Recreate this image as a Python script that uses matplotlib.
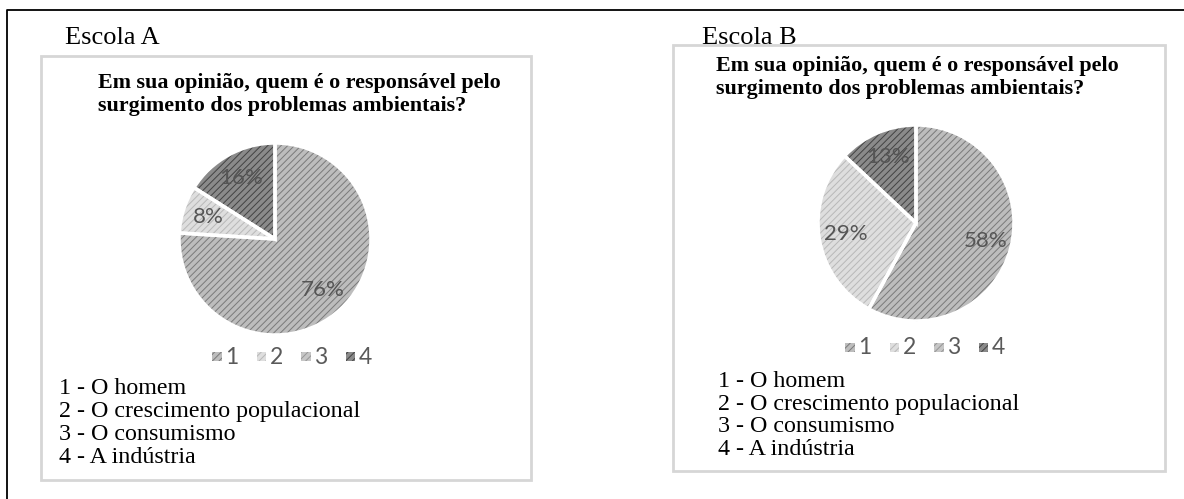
import matplotlib
matplotlib.use("Agg")
import matplotlib.pyplot as plt
from matplotlib.patches import Rectangle, Wedge

W, H = 1184, 499

# data (category 3 has no share in either school)
categories = ["1", "2", "3", "4"]
escola_a = [76, 8, 0, 16]
escola_b = [58, 29, 0, 13]
school_names = ["Escola A", "Escola B"]
title_lines = ["Em sua opinião, quem é o responsável pelo",
               "surgimento dos problemas ambientais?"]
key_lines = ["1 - O homem", "2 - O crescimento populacional",
             "3 - O consumismo", "4 - A indústria"]

face_colors = ["#bdbdbd", "#dedede", "#c6c6c6", "#8a8a8a"]
hatch_colors = ["#7a7a7a", "#b8b8b8", "#969696", "#424242"]

plt.rcParams["hatch.linewidth"] = 0.7

fig = plt.figure(figsize=(W / 100, H / 100), dpi=100)
bg = fig.add_axes([0, 0, 1, 1])
bg.set_xlim(0, W)
bg.set_ylim(H, 0)
bg.axis("off")

# outer frame: only left and top lines are visible
bg.plot([7, 7, W + 5], [H + 5, 10, 10], color="black", lw=1.3)

panels = [
    dict(box=(41, 56, 490, 424), name=(65, 44), title=(98, 88),
         centre=(275, 239), r=96, leg=(294, 356), key=(59, 394.5)),
    dict(box=(673, 45, 492, 426), name=(702, 43.5), title=(716, 71),
         centre=(916, 223), r=98, leg=(927, 347), key=(718, 387)),
]

for p, name, vals in zip(panels, school_names, [escola_a, escola_b]):
    x0, y0, bw, bh = p["box"]
    bg.add_patch(Rectangle((x0, y0), bw, bh, fill=False, ec="#d6d6d6", lw=2))
    bg.text(*p["name"], name, fontsize=19, family="Liberation Serif",
            va="baseline", ha="left")
    for i, line in enumerate(title_lines):
        bg.text(p["title"][0], p["title"][1] + i * 22.5, line, fontsize=15.8,
                family="Liberation Serif", weight="bold", va="baseline",
                ha="left")
    for i, line in enumerate(key_lines):
        bg.text(p["key"][0], p["key"][1] + i * 22.7, line, fontsize=17.3,
                family="Liberation Serif", va="baseline", ha="left")

    # pie in its own square axes
    cx, cy = p["centre"]
    r = p["r"]
    ax = fig.add_axes([(cx - r) / W, 1 - (cy + r) / H, 2 * r / W, 2 * r / H])
    wedges, _, autotexts = ax.pie(
        vals, startangle=90, counterclock=False, radius=1,
        colors=face_colors, autopct=lambda v: f"{v:.0f}%" if v > 0 else "",
        pctdistance=0.73,
        wedgeprops=dict(linewidth=0, hatch="/////"),
        textprops=dict(fontsize=16, color="#555555", family="Lato"))
    for w, hc in zip(wedges, hatch_colors):
        w.set_edgecolor(hc)
        w.set_linewidth(0)
    # white separators drawn on top
    for w in wedges:
        if w.theta2 - w.theta1 > 0:
            ax.add_patch(Wedge(w.center, w.r, w.theta1, w.theta2,
                               fill=False, ec="white", lw=2.5))
    ax.set_xlim(-1, 1)
    ax.set_ylim(-1, 1)
    ax.axis("off")

    # legend row "■1 ■2 ■3 ■4"
    lx, ly = p["leg"]
    step = 44.5
    start = lx - step * 1.5 - 10
    for i, cat in enumerate(categories):
        sx = start + i * step
        bg.add_patch(Rectangle((sx - 5, ly - 4.5), 9.5, 9.5, fc=face_colors[i],
                               ec=hatch_colors[i], lw=0, hatch="/////"))
        bg.text(sx + 8, ly + 1, cat, fontsize=16.5, color="#5a5a5a",
                family="Lato", va="center", ha="left")

fig.savefig("out.png", dpi=100)
